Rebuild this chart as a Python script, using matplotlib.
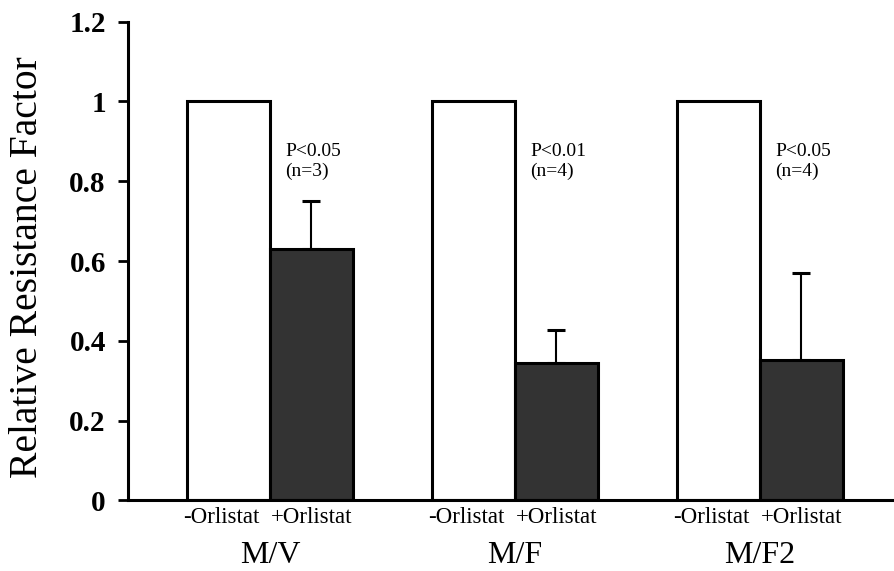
import matplotlib
matplotlib.use("Agg")
import matplotlib.pyplot as plt
import matplotlib.patheffects as pe
from matplotlib.transforms import blended_transform_factory
import numpy as np

# values
groups = ["M/V", "M/F", "M/F2"]
bar_labels = ["-Orlistat", "+Orlistat"]
control = [1.0, 1.0, 1.0]
orlistat = [0.63, 0.345, 0.352]
orlistat_err = [0.12, 0.082, 0.218]
p_labels = ["P<0.05\n(n=3)", "P<0.01\n(n=4)", "P<0.05\n(n=4)"]
yticks = [0, 0.2, 0.4, 0.6, 0.8, 1.0, 1.2]
ytick_labels = ["0", "0.2", "0.4", "0.6", "0.8", "1", "1.2"]

plt.rcParams["font.family"] = ["Liberation Serif", "DejaVu Serif"]

fig = plt.figure(figsize=(8.94, 5.71), dpi=100)
ax = fig.add_axes((0.1432, 0.1235, 0.8557, 0.8385))

x = np.arange(len(groups))
w = 0.337
shadow = [pe.SimplePatchShadow(offset=(1.5, -1.0), shadow_rgbFace="black", alpha=1.0), pe.Normal()]

ctrl = ax.bar(x - w / 2, control, w, color="white", edgecolor="black", linewidth=2.2, zorder=2)
orl = ax.bar(x + w / 2, orlistat, w, color="#333333", edgecolor="black", linewidth=2.2, zorder=2)
for b in list(ctrl) + list(orl):
    b.set_path_effects(shadow)

# upper error bars only
ax.errorbar(x + w / 2, orlistat, yerr=[np.zeros(len(x)), orlistat_err], fmt="none",
            ecolor="black", elinewidth=1.5, capsize=6.5, capthick=2.2, zorder=1)

for xi, lab in zip(x, p_labels):
    ax.text(xi + 0.062, 0.895, lab, ha="left", va="top", fontsize=14, linespacing=1.15)

ax.set_xlim(-0.5796, 2.543)
ax.set_ylim(0, 1.2)
ax.set_yticks(yticks)
ax.set_yticklabels(ytick_labels, fontsize=21, fontweight="bold")
ax.tick_params(axis="y", direction="out", length=7, width=2, pad=9)

tick_pos = []
tick_txt = []
for xi in x:
    tick_pos += [xi - w / 2 - 0.03, xi + w / 2]
    tick_txt += bar_labels
ax.set_xticks(tick_pos)
ax.set_xticklabels(tick_txt, fontsize=16.5)
ax.tick_params(axis="x", length=0, pad=5)

trans = blended_transform_factory(ax.transData, fig.transFigure)
for xi, g in zip(x, groups):
    ax.text(xi, 0.014, g, transform=trans, ha="center", va="baseline", fontsize=23)

fig.text(0.031, 0.532, "Relative Resistance Factor", rotation=90, ha="center", va="center",
         fontsize=28.5)

for side in ("top", "right"):
    ax.spines[side].set_visible(False)
for side in ("left", "bottom"):
    ax.spines[side].set_linewidth(2.2)

fig.savefig("out.png", dpi=100)
